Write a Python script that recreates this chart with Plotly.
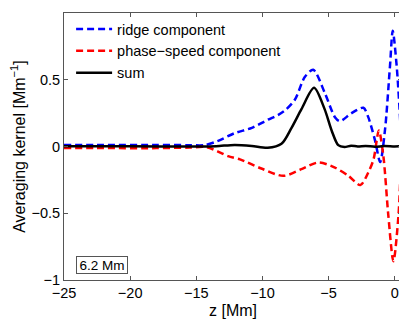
import plotly.graph_objects as go

# ---- data ----
z_ridge = [-25, -22, -18, -15.5, -14.4, -13.4, -12.1, -10.8, -9.6, -8.8, -8.3, -7.55,
           -6.8, -6.16, -5.28, -4.52, -4.14, -3.26, -2.37, -2.0, -1.5, -1.1, -0.73,
           -0.36, -0.15, 0.15, 0.4, 0.5]
ridge = [0.012, 0.012, 0.012, 0.01, 0.01, 0.04, 0.10, 0.14, 0.20, 0.237, 0.27, 0.35,
         0.52, 0.575, 0.40, 0.22, 0.19, 0.25, 0.29, 0.22, 0.05, -0.116, 0.13,
         0.60, 0.867, 0.60, 0.22, 0.03]

z_phase = [-25, -22, -18, -15.5, -14.2, -12.6, -11.7, -10.08, -8.43, -7.05, -5.78,
           -4.52, -3.5, -2.6, -2.0, -1.6, -1.2, -0.86, -0.48, -0.1, 0.28, 0.5]
phase = [-0.012, -0.012, -0.012, -0.008, -0.005, -0.072, -0.096, -0.165, -0.22, -0.17, -0.12,
         -0.158, -0.22, -0.289, -0.195, -0.096, 0.12, -0.07, -0.52, -0.86, -0.52, -0.02]

z_sum = [-25, -20, -15, -13.5, -12.1, -10.8, -9.6, -8.56, -7.8, -7.05, -6.1, -5.3,
         -4.77, -4.27, -3.8, -3.3, -2.8, -2.2, -1.5, -0.8, 0.0, 0.5]
total = [0.002, 0.002, 0.0, 0.002, 0.012, 0.004, -0.01, 0.02, 0.14, 0.28, 0.44, 0.28,
         0.12, 0.01, -0.004, 0.006, 0.0, 0.004, -0.002, 0.003, 0.0, 0.002]

x_ticks = [-25, -20, -15, -10, -5, 0]
y_ticks = [-1, -0.5, 0, 0.5, 1]

FONT = "Liberation Sans, Arial, Helvetica, sans-serif"
AX = "#555555"

fig = go.Figure()
fig.add_trace(go.Scatter(x=z_ridge, y=ridge, mode="lines", name="ridge component",
                         line=dict(color="#0000ff", width=2.5, dash="7px,4px",
                                   shape="spline", smoothing=0.8)))
fig.add_trace(go.Scatter(x=z_phase, y=phase, mode="lines", name="phase\u2212speed component",
                         line=dict(color="#ff0000", width=2.5, dash="7px,4px",
                                   shape="spline", smoothing=0.8)))
fig.add_trace(go.Scatter(x=z_sum, y=total, mode="lines", name="sum",
                         line=dict(color="#000000", width=2.5,
                                   shape="spline", smoothing=0.8)))

axis_common = dict(showline=True, linecolor=AX, linewidth=1, mirror="ticks",
                   ticks="inside", ticklen=4, tickcolor=AX, showgrid=False,
                   zeroline=False, automargin=True,
                   tickfont=dict(family=FONT, size=14.5, color="black"))

fig.update_xaxes(range=[-25, 0.55], tickvals=x_ticks,
                 title=dict(text="z [Mm]", font=dict(family=FONT, size=16, color="black"),
                            standoff=4),
                 **axis_common)
fig.update_yaxes(range=[-1, 1], tickvals=y_ticks,
                 title=dict(text="Averaging kernel [Mm<sup>\u22121</sup>]",
                            font=dict(family=FONT, size=16, color="black"), standoff=8),
                 **axis_common)

fig.add_annotation(text="6.2 Mm", xref="paper", yref="paper", x=0.035, y=0.022,
                   xanchor="left", yanchor="bottom", showarrow=False,
                   font=dict(family=FONT, size=13.5, color="black"),
                   width=48, height=14, align="center",
                   bordercolor=AX, borderwidth=1, borderpad=1, bgcolor="white")

# the page adds an 8px body margin, so the figure is 8px smaller and margins shifted
fig.update_layout(template="none", width=399, height=313,
                  margin=dict(l=56, r=5, t=4, b=39, pad=0),
                  paper_bgcolor="white", plot_bgcolor="white",
                  font=dict(family=FONT, size=14, color="black"),
                  showlegend=True,
                  legend=dict(x=0.021, y=1.0, xanchor="left", yanchor="top",
                              bgcolor="rgba(0,0,0,0)", borderwidth=0,
                              font=dict(family=FONT, size=14.5, color="black"),
                              itemwidth=36, tracegroupgap=0))

fig.write_html("out.html")
